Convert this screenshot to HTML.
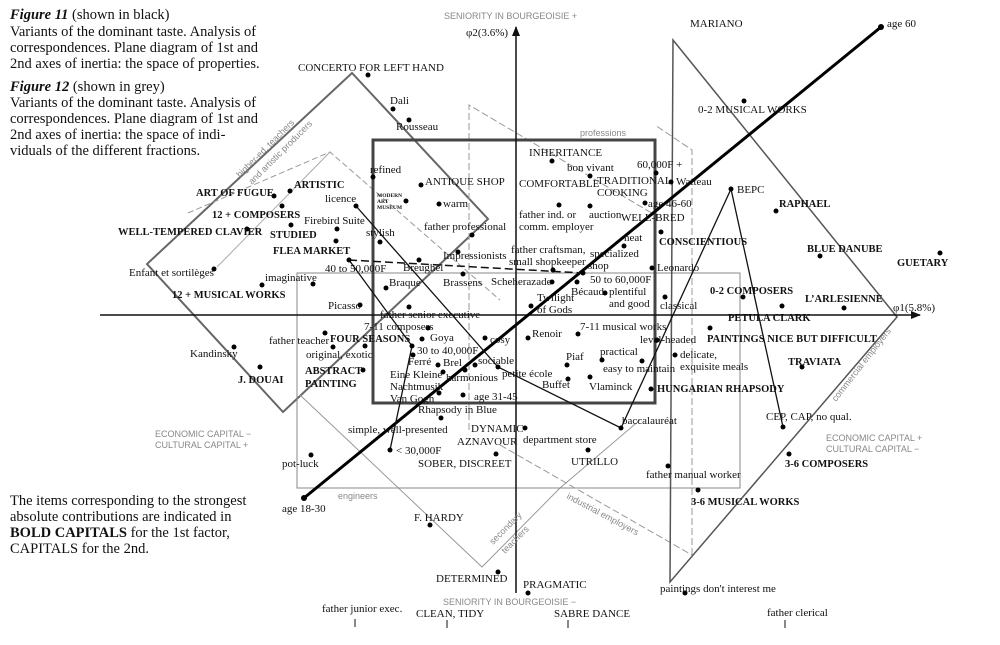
<!DOCTYPE html>
<html><head><meta charset="utf-8"><style>
html,body{margin:0;padding:0;background:#fff}
svg{display:block}
.t{font-family:"Liberation Serif",serif;font-size:11px;fill:#111}
.b{font-family:"Liberation Serif",serif;font-size:10.5px;font-weight:bold;fill:#111}
.g{font-family:"Liberation Sans",sans-serif;font-size:9px;fill:#888}
.h{font-family:"Liberation Serif",serif;font-size:14.5px;fill:#111}
</style></head><body>
<svg width="1000" height="645" viewBox="0 0 1000 645" xmlns="http://www.w3.org/2000/svg">
<defs><marker id="ar" markerWidth="10" markerHeight="8" refX="9" refY="4" orient="auto" markerUnits="userSpaceOnUse"><path d="M0,0 L10,4 L0,8 z" fill="#111"/></marker></defs>

<!-- grey shapes -->
<polygon points="352,73 488,219 283,412 147,264" fill="none" stroke="#666" stroke-width="2"/>
<polyline points="188,213 330,152 500,300" fill="none" stroke="#999" stroke-width="1" stroke-dasharray="6,3"/>
<polyline points="217,267 330,152" fill="none" stroke="#aaa" stroke-width="1"/>
<polyline points="300,395 482,567 560,488 640,420" fill="none" stroke="#999" stroke-width="1"/>
<rect x="297" y="273" width="443" height="215" fill="none" stroke="#888" stroke-width="1"/>
<polyline points="469,430 469,105 655,215" fill="none" stroke="#999" stroke-width="1" stroke-dasharray="7,3"/>
<polyline points="692,555 692,150 655,125" fill="none" stroke="#999" stroke-width="1" stroke-dasharray="7,3"/>
<polyline points="500,445 692,555" fill="none" stroke="#999" stroke-width="1" stroke-dasharray="7,3"/>
<polygon points="673,40 897,317 670,582" fill="none" stroke="#555" stroke-width="1.5"/>
<rect x="373" y="140" width="282" height="263" fill="none" stroke="#444" stroke-width="3"/>

<!-- axes -->
<line x1="100" y1="315" x2="920" y2="315" stroke="#111" stroke-width="1.5" marker-end="url(#ar)"/>
<line x1="516" y1="593" x2="516" y2="27" stroke="#111" stroke-width="1.5" marker-end="url(#ar)"/>

<!-- black lines -->
<line x1="304" y1="498" x2="881" y2="27" stroke="#000" stroke-width="3"/>
<polyline points="356,206 498,367 621,428 731,189 783,427" fill="none" stroke="#111" stroke-width="1.3"/>
<polyline points="349,260 412,346 390,450" fill="none" stroke="#111" stroke-width="1.3"/>
<line x1="349" y1="260" x2="583" y2="273" stroke="#111" stroke-width="1.5" stroke-dasharray="8,4"/>

<!-- dots -->
<g fill="#000">
<circle cx="368" cy="75" r="2.5"/><circle cx="393" cy="109" r="2.5"/><circle cx="409" cy="120" r="2.5"/><circle cx="373" cy="177" r="2.5"/>
<circle cx="421" cy="185" r="2.5"/><circle cx="406" cy="201" r="2.5"/><circle cx="439" cy="204" r="2.5"/><circle cx="356" cy="206" r="2.5"/>
<circle cx="290" cy="191" r="2.5"/><circle cx="274" cy="196" r="2.5"/><circle cx="282" cy="206" r="2.5"/><circle cx="247" cy="229" r="2.5"/>
<circle cx="337" cy="229" r="2.5"/><circle cx="291" cy="225" r="2.5"/><circle cx="380" cy="242" r="2.5"/><circle cx="336" cy="241" r="2.5"/>
<circle cx="349" cy="260" r="2.5"/><circle cx="214" cy="269" r="2.5"/><circle cx="313" cy="284" r="2.5"/><circle cx="262" cy="285" r="2.5"/>
<circle cx="386" cy="288" r="2.5"/><circle cx="360" cy="305" r="2.5"/><circle cx="409" cy="307" r="2.5"/><circle cx="472" cy="235" r="2.5"/>
<circle cx="458" cy="252" r="2.5"/><circle cx="419" cy="260" r="2.5"/><circle cx="463" cy="274" r="2.5"/><circle cx="552" cy="282" r="2.5"/>
<circle cx="553" cy="270" r="2.5"/><circle cx="531" cy="306" r="2.5"/><circle cx="624" cy="246" r="2.5"/><circle cx="583" cy="273" r="2.5"/>
<circle cx="577" cy="282" r="2.5"/><circle cx="605" cy="293" r="2.5"/><circle cx="428" cy="328" r="2.5"/><circle cx="422" cy="339" r="2.5"/>
<circle cx="485" cy="338" r="2.5"/><circle cx="528" cy="338" r="2.5"/><circle cx="578" cy="334" r="2.5"/><circle cx="412" cy="346" r="2.5"/>
<circle cx="325" cy="333" r="2.5"/><circle cx="333" cy="347" r="2.5"/><circle cx="365" cy="346" r="2.5"/><circle cx="363" cy="370" r="2.5"/>
<circle cx="413" cy="355" r="2.5"/><circle cx="438" cy="365" r="2.5"/><circle cx="475" cy="365" r="2.5"/><circle cx="443" cy="372" r="2.5"/>
<circle cx="465" cy="370" r="2.5"/><circle cx="498" cy="367" r="2.5"/><circle cx="568" cy="379" r="2.5"/><circle cx="567" cy="365" r="2.5"/>
<circle cx="602" cy="360" r="2.5"/><circle cx="642" cy="361" r="2.5"/><circle cx="590" cy="377" r="2.5"/><circle cx="439" cy="393" r="2.5"/>
<circle cx="463" cy="395" r="2.5"/><circle cx="441" cy="418" r="2.5"/><circle cx="234" cy="347" r="2.5"/><circle cx="260" cy="367" r="2.5"/>
<circle cx="657" cy="340" r="2.5"/><circle cx="675" cy="355" r="2.5"/><circle cx="651" cy="389" r="2.5"/><circle cx="710" cy="328" r="2.5"/>
<circle cx="743" cy="297" r="2.5"/><circle cx="782" cy="306" r="2.5"/><circle cx="844" cy="308" r="2.5"/><circle cx="820" cy="256" r="2.5"/>
<circle cx="940" cy="253" r="2.5"/><circle cx="802" cy="367" r="2.5"/><circle cx="783" cy="427" r="2.5"/><circle cx="789" cy="454" r="2.5"/>
<circle cx="698" cy="490" r="2.5"/><circle cx="668" cy="466" r="2.5"/><circle cx="621" cy="428" r="2.5"/><circle cx="525" cy="428" r="2.5"/>
<circle cx="588" cy="450" r="2.5"/><circle cx="496" cy="454" r="2.5"/><circle cx="390" cy="450" r="2.5"/><circle cx="311" cy="455" r="2.5"/>
<circle cx="304" cy="498" r="3"/><circle cx="430" cy="525" r="2.5"/><circle cx="498" cy="572" r="2.5"/><circle cx="528" cy="593" r="2.5"/>
<circle cx="685" cy="593" r="2.5"/><circle cx="881" cy="27" r="3"/><circle cx="744" cy="101" r="2.5"/><circle cx="656" cy="173" r="2.5"/>
<circle cx="671" cy="182" r="2.5"/><circle cx="731" cy="189" r="2.5"/><circle cx="645" cy="203" r="2.5"/><circle cx="776" cy="211" r="2.5"/>
<circle cx="661" cy="232" r="2.5"/><circle cx="652" cy="268" r="2.5"/><circle cx="665" cy="297" r="2.5"/><circle cx="552" cy="161" r="2.5"/>
<circle cx="590" cy="176" r="2.5"/><circle cx="559" cy="205" r="2.5"/><circle cx="590" cy="206" r="2.5"/>
</g>
<g stroke="#111" stroke-width="1"><line x1="355" y1="619" x2="355" y2="627"/><line x1="447" y1="620" x2="447" y2="628"/><line x1="568" y1="620" x2="568" y2="628"/><line x1="785" y1="620" x2="785" y2="628"/></g>

<!-- header text -->
<text class="h" x="10" y="19"><tspan font-weight="bold" font-style="italic">Figure 11</tspan>   (shown in black)</text>
<text class="h" x="10" y="36">Variants of the dominant taste. Analysis of</text>
<text class="h" x="10" y="52">correspondences. Plane diagram of 1st and</text>
<text class="h" x="10" y="68">2nd axes of inertia: the space of properties.</text>
<text class="h" x="10" y="91"><tspan font-weight="bold" font-style="italic">Figure 12</tspan>   (shown in grey)</text>
<text class="h" x="10" y="107">Variants of the dominant taste. Analysis of</text>
<text class="h" x="10" y="123">correspondences. Plane diagram of 1st and</text>
<text class="h" x="10" y="139">2nd axes of inertia: the space of indi-</text>
<text class="h" x="10" y="155">viduals of the different fractions.</text>
<text class="h" x="10" y="505">The items corresponding to the strongest</text>
<text class="h" x="10" y="521">absolute contributions are indicated in</text>
<text class="h" x="10" y="537"><tspan font-weight="bold">BOLD CAPITALS</tspan> for the 1st factor,</text>
<text class="h" x="10" y="553">CAPITALS for the 2nd.</text>

<!-- grey labels -->
<text class="g" x="444" y="19">SENIORITY IN BOURGEOISIE  +</text>
<text class="g" x="443" y="605">SENIORITY IN BOURGEOISIE  −</text>
<text class="g" x="580" y="136">professions</text>
<text class="g" x="155" y="437">ECONOMIC CAPITAL  −</text>
<text class="g" x="155" y="448">CULTURAL CAPITAL  +</text>
<text class="g" x="826" y="441">ECONOMIC CAPITAL  +</text>
<text class="g" x="826" y="452">CULTURAL CAPITAL  −</text>
<text class="g" x="338" y="499">engineers</text>
<text class="g" transform="translate(240,178) rotate(-45)">higher-ed. teachers</text>
<text class="g" transform="translate(252,185) rotate(-45)">and artistic producers</text>
<text class="g" transform="translate(836,402) rotate(-52)">commercial employers</text>
<text class="g" transform="translate(566,498) rotate(28)">industrial employers</text>
<text class="g" transform="translate(493,545) rotate(-45)">secondary</text>
<text class="g" transform="translate(505,554) rotate(-45)">teachers</text>

<!-- labels -->
<text class="t" x="466" y="36">φ2(3.6%)</text>
<text class="t" x="893" y="311">φ1(5.8%)</text>
<text class="t" x="298" y="71">CONCERTO FOR LEFT HAND</text>
<text class="t" x="390" y="104">Dali</text>
<text class="t" x="396" y="130">Rousseau</text>
<text class="t" x="370" y="173">refined</text>
<text class="t" x="425" y="185">ANTIQUE SHOP</text>
<text class="b" style="font-size:5.5px" x="377" y="197">MODERN</text>
<text class="b" style="font-size:5.5px" x="377" y="203">ART</text>
<text class="b" style="font-size:5.5px" x="377" y="209">MUSEUM</text>
<text class="t" x="443" y="207">warm</text>
<text class="t" x="325" y="202">licence</text>
<text class="b" x="294" y="188">ARTISTIC</text>
<text class="b" x="196" y="196">ART OF FUGUE</text>
<text class="b" x="212" y="218">12 + COMPOSERS</text>
<text class="b" x="118" y="235">WELL-TEMPERED CLAVIER</text>
<text class="t" x="304" y="224">Firebird Suite</text>
<text class="b" x="270" y="238">STUDIED</text>
<text class="t" x="366" y="236">stylish</text>
<text class="b" x="273" y="254">FLEA MARKET</text>
<text class="t" x="325" y="272">40 to 50,000F</text>
<text class="t" x="129" y="276">Enfant et sortilèges</text>
<text class="t" x="265" y="281">imaginative</text>
<text class="b" x="172" y="298">12 + MUSICAL WORKS</text>
<text class="t" x="389" y="286">Braque</text>
<text class="t" x="328" y="309">Picasso</text>
<text class="t" x="380" y="318">father senior executive</text>
<text class="t" x="424" y="230">father professional</text>
<text class="t" x="443" y="259">Impressionists</text>
<text class="t" x="403" y="271">Breughel</text>
<text class="t" x="443" y="286">Brassens</text>
<text class="t" x="491" y="285">Scheherazade</text>
<text class="t" x="511" y="253">father craftsman,</text>
<text class="t" x="509" y="265">small shopkeeper</text>
<text class="t" x="537" y="301">Twilight</text>
<text class="t" x="537" y="313">of Gods</text>
<text class="t" x="590" y="257">specialized</text>
<text class="t" x="588" y="269">shop</text>
<text class="t" x="624" y="241">neat</text>
<text class="t" x="590" y="283">50 to 60,000F</text>
<text class="t" x="571" y="295">Bécaud</text>
<text class="t" x="609" y="295">plentiful</text>
<text class="t" x="609" y="307">and good</text>
<text class="t" x="364" y="330">7-11 composers</text>
<text class="t" x="430" y="341">Goya</text>
<text class="t" x="490" y="343">cosy</text>
<text class="t" x="532" y="337">Renoir</text>
<text class="t" x="580" y="330">7-11 musical works</text>
<text class="t" x="417" y="354">30 to 40,000F</text>
<text class="b" x="330" y="342">FOUR SEASONS</text>
<text class="t" x="269" y="344">father teacher</text>
<text class="t" x="306" y="358">original, exotic</text>
<text class="b" x="305" y="374">ABSTRACT</text>
<text class="b" x="305" y="387">PAINTING</text>
<text class="t" x="408" y="365">Ferré</text>
<text class="t" x="443" y="366">Brel</text>
<text class="t" x="478" y="364">sociable</text>
<text class="t" x="390" y="378">Eine Kleine</text>
<text class="t" x="390" y="390">Nachtmusik</text>
<text class="t" x="446" y="381">harmonious</text>
<text class="t" x="502" y="377">petite école</text>
<text class="t" x="542" y="388">Buffet</text>
<text class="t" x="566" y="360">Piaf</text>
<text class="t" x="600" y="355">practical</text>
<text class="t" x="603" y="372">easy to maintain</text>
<text class="t" x="589" y="390">Vlaminck</text>
<text class="t" x="390" y="402">Van Gogh</text>
<text class="t" x="474" y="400">age 31-45</text>
<text class="t" x="418" y="413">Rhapsody in Blue</text>
<text class="t" x="190" y="357">Kandinsky</text>
<text class="b" x="238" y="383">J. DOUAI</text>
<text class="t" x="640" y="343">level-headed</text>
<text class="t" x="680" y="358">delicate,</text>
<text class="t" x="680" y="370">exquisite meals</text>
<text class="b" x="657" y="392">HUNGARIAN RHAPSODY</text>
<text class="b" x="707" y="342">PAINTINGS NICE BUT DIFFICULT</text>
<text class="b" x="710" y="294">0-2 COMPOSERS</text>
<text class="b" x="728" y="321">PETULA CLARK</text>
<text class="b" x="805" y="302">L’ARLESIENNE</text>
<text class="b" x="807" y="252">BLUE DANUBE</text>
<text class="b" x="897" y="266">GUETARY</text>
<text class="b" x="788" y="365">TRAVIATA</text>
<text class="t" x="766" y="420">CEP, CAP, no qual.</text>
<text class="b" x="785" y="467">3-6 COMPOSERS</text>
<text class="b" x="691" y="505">3-6 MUSICAL WORKS</text>
<text class="t" x="646" y="478">father manual worker</text>
<text class="t" x="622" y="424">baccalauréat</text>
<text class="t" x="523" y="443">department store</text>
<text class="t" x="571" y="465">UTRILLO</text>
<text class="t" x="471" y="432">DYNAMIC</text>
<text class="t" x="457" y="445">AZNAVOUR</text>
<text class="t" x="418" y="467">SOBER, DISCREET</text>
<text class="t" x="348" y="433">simple, well-presented</text>
<text class="t" x="396" y="454">&lt; 30,000F</text>
<text class="t" x="282" y="467">pot-luck</text>
<text class="t" x="282" y="512">age 18-30</text>
<text class="t" x="414" y="521">F. HARDY</text>
<text class="t" x="436" y="582">DETERMINED</text>
<text class="t" x="523" y="588">PRAGMATIC</text>
<text class="t" x="660" y="592">paintings don't interest me</text>
<text class="t" x="322" y="612">father junior exec.</text>
<text class="t" x="416" y="617">CLEAN, TIDY</text>
<text class="t" x="554" y="617">SABRE DANCE</text>
<text class="t" x="767" y="616">father clerical</text>
<text class="t" x="690" y="27">MARIANO</text>
<text class="t" x="887" y="27">age 60</text>
<text class="t" x="698" y="113">0-2 MUSICAL WORKS</text>
<text class="t" x="637" y="168">60,000F  +</text>
<text class="t" x="676" y="185">Watteau</text>
<text class="t" x="737" y="193">BEPC</text>
<text class="t" x="648" y="207">age 46-60</text>
<text class="b" x="779" y="207">RAPHAEL</text>
<text class="t" x="621" y="221">WELL-BRED</text>
<text class="b" x="659" y="245">CONSCIENTIOUS</text>
<text class="t" x="657" y="271">Leonardo</text>
<text class="t" x="660" y="309">classical</text>
<text class="t" x="529" y="156">INHERITANCE</text>
<text class="t" x="567" y="171">bon vivant</text>
<text class="t" x="519" y="187">COMFORTABLE</text>
<text class="t" x="597" y="184">TRADITIONAL</text>
<text class="t" x="597" y="196">COOKING</text>
<text class="t" x="519" y="218">father ind. or</text>
<text class="t" x="519" y="230">comm. employer</text>
<text class="t" x="589" y="218">auction</text>
</svg>
</body></html>
